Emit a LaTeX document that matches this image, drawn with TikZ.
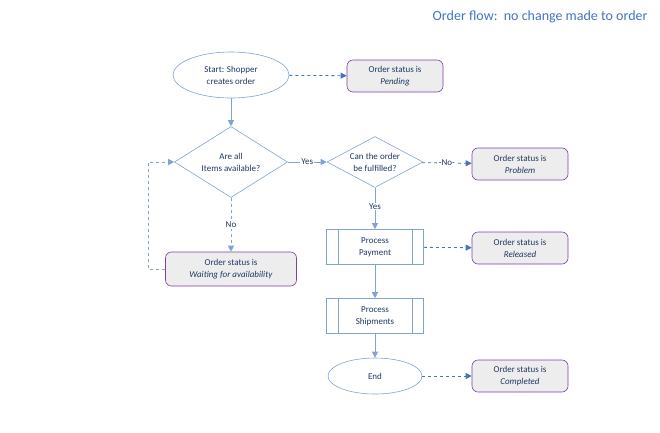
\documentclass[tikz,border=0pt]{standalone}
\usepackage{fontspec}
\setmainfont{Carlito}
\usetikzlibrary{shapes.geometric,arrows.meta}
\definecolor{flowline}{HTML}{7FA3D3}
\definecolor{statline}{HTML}{4472C4}
\definecolor{statedge}{HTML}{7F3FA6}
\definecolor{textblue}{HTML}{203864}
\tikzset{
  every node/.style={font=\fontsize{9}{12}\selectfont,text=textblue,align=center},
  flow/.style={draw=flowline,line width=0.8pt,-{Triangle[length=6pt,width=6pt]}},
  statflow/.style={draw=statline,line width=0.8pt,dashed,-{Triangle[length=6pt,width=6pt]}},
  loopflow/.style={draw=flowline,line width=0.8pt,dashed,-{Triangle[length=6pt,width=6pt]}},
  status/.style={draw=statedge,fill=black!7,rounded corners=6pt,minimum width=96pt,minimum height=32pt,line width=0.6pt},
  decision/.style={draw=flowline,diamond,aspect=1.6,inner sep=0pt,line width=0.6pt},
  terminal/.style={draw=flowline,ellipse,line width=0.6pt},
  process/.style={draw=flowline,minimum width=97pt,minimum height=35pt,line width=0.6pt}
}
\begin{document}
\begin{tikzpicture}[x=1pt,y=-1pt]
  \useasboundingbox (0,0) rectangle (660,432);
  \node[anchor=east,font=\fontsize{14}{16}\selectfont,text=statline] (title) at (651,17) {Order flow:\ \ no change made to order};

  \node[terminal,minimum width=116pt,minimum height=46pt] (start) at (231,75) {Start: Shopper\\creates order};
  \node[status] (pending) at (395,76) {Order status is\\\textit{Pending}};

  \node[decision,minimum width=113pt,minimum height=71pt] (avail) at (231,162) {Are all\\Items available?};
  \node[decision,minimum width=96pt,minimum height=51pt] (fulfil) at (375,162) {Can the order\\be fulfilled?};
  \node[status] (problem) at (520,164) {Order status is\\\textit{Problem}};

  \node[status,minimum width=131pt,minimum height=34pt] (waiting) at (231,269) {Order status is\\\textit{Waiting for availability}};

  \node[process] (payment) at (375,247) {Process\\Payment};
  \draw[flowline,line width=0.6pt] ([xshift=12pt]payment.north west) -- ([xshift=12pt]payment.south west)
    ([xshift=-12pt]payment.north east) -- ([xshift=-12pt]payment.south east);
  \node[status] (released) at (520,248) {Order status is\\\textit{Released}};

  \node[process] (shipments) at (375,316) {Process\\Shipments};
  \draw[flowline,line width=0.6pt] ([xshift=12pt]shipments.north west) -- ([xshift=12pt]shipments.south west)
    ([xshift=-12pt]shipments.north east) -- ([xshift=-12pt]shipments.south east);

  \node[terminal,minimum width=94pt,minimum height=36pt] (finish) at (375,376) {End};
  \node[status] (completed) at (520,376) {Order status is\\\textit{Completed}};

  % connectors
  \draw[statflow] (start) -- (pending);
  \draw[flow] (start) -- (avail);
  \draw[flow] (avail) -- node[fill=white,inner sep=1pt] {Yes} (fulfil);
  \draw[statflow] (fulfil) -- node[fill=white,inner sep=1pt] {-No-} (problem);
  \draw[loopflow] (avail) -- node[fill=white,inner sep=1pt] {No} (waiting);
  \coordinate (loopturn) at (148,269);
  \draw[loopflow] (waiting.west) -- (loopturn) |- (avail.west);
  \draw[flow] (fulfil) -- node[fill=white,inner sep=1pt,pos=0.45] {Yes} (payment);
  \draw[statflow] (payment) -- (released);
  \draw[flow] (payment) -- (shipments);
  \draw[flow] (shipments) -- (finish);
  \draw[statflow] (finish) -- (completed);
\end{tikzpicture}
\end{document}
